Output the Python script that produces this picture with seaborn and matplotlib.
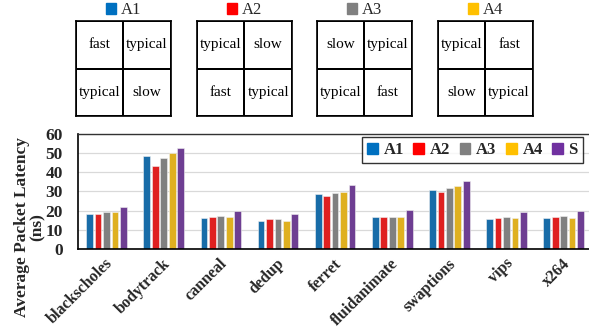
import numpy as np
import pandas as pd
import matplotlib
matplotlib.use("Agg")
import matplotlib.pyplot as plt
import seaborn as sns
from matplotlib.patches import Patch

# Daten
benchmarks = ["blackscholes", "bodytrack", "canneal", "dedup", "ferret",
              "fluidanimate", "swaptions", "vips", "x264"]
configs = ["A1", "A2", "A3", "A4", "S"]
a1 = [18.2, 48.7, 16.1, 14.6, 28.5, 16.8, 30.9, 15.7, 16.1]
a2 = [18.3, 43.2, 16.8, 15.6, 27.4, 16.8, 29.5, 16.4, 16.7]
a3 = [19.1, 47.4, 17.3, 15.6, 29.0, 16.8, 31.8, 16.8, 17.0]
a4 = [19.1, 50.2, 16.7, 14.6, 29.5, 16.8, 32.9, 16.2, 16.4]
s = [21.7, 52.6, 19.8, 18.2, 33.2, 20.5, 35.5, 19.3, 19.8]
colors = ["#0070C0", "#FF0000", "#808080", "#FFC000", "#7030A0"]

# 2x2 Zuordnungen oben
layouts = {
    "A1": [["fast", "typical"], ["typical", "slow"]],
    "A2": [["typical", "slow"], ["fast", "typical"]],
    "A3": [["slow", "typical"], ["typical", "fast"]],
    "A4": [["typical", "fast"], ["slow", "typical"]],
}

df = pd.DataFrame({"benchmark": benchmarks * 5,
                   "config": np.repeat(configs, len(benchmarks)),
                   "latency": a1 + a2 + a3 + a4 + s})

sns.set_style("white")
plt.rcParams["font.family"] = ["Liberation Serif", "DejaVu Serif"]

fig = plt.figure(figsize=(5.89, 3.28), dpi=100)

# Hauptdiagramm
ax = fig.add_axes([0.1324, 0.2409, 0.873, 0.3506])
sns.barplot(data=df, x="benchmark", y="latency", hue="config",
            palette=colors, width=0.74, gap=0.2, ax=ax,
            edgecolor="#f0f0f0", linewidth=0.4)
ax.set_ylim(0, 60)
ax.set_xlim(-0.5, len(benchmarks) - 0.5)
ax.set_yticks(range(0, 61, 10))
ax.set_yticklabels([str(v) for v in range(0, 61, 10)], fontsize=12.5, fontweight="bold")
ax.yaxis.grid(True, color="#d9d9d9", linewidth=0.9)
ax.set_axisbelow(True)
ax.tick_params(axis="y", direction="inout", length=6, width=1, pad=8)
ax.set_ylabel("Average Packet Latency\n(ns)", fontsize=12.5, fontweight="bold",
              linespacing=1.0)
ax.yaxis.set_label_coords(-0.062, 0.19)
ax.set_xlabel("")

# Ticks zwischen den Kategorien
ax.set_xticks(np.arange(len(benchmarks)), labels=[])
ax.set_xticks(np.arange(len(benchmarks)) - 0.5, minor=True)
ax.tick_params(axis="x", which="major", length=0)
ax.tick_params(axis="x", which="minor", direction="inout", length=8, width=1)
for i, b in enumerate(benchmarks):
    ax.text(i - 0.03, -3.5, b, rotation=45, ha="right", va="top",
            rotation_mode="anchor", fontsize=11.5, fontweight="bold")

for side in ["left", "bottom"]:
    ax.spines[side].set_color("black")
    ax.spines[side].set_linewidth(1.2)
ax.spines["top"].set_color("#333333")
ax.spines["top"].set_linewidth(1.0)
ax.spines["right"].set_visible(False)

handles = [Patch(color=c, label=l) for c, l in zip(colors, configs)]
leg = ax.legend(handles=handles, loc="upper right", bbox_to_anchor=(0.982, 0.97),
                ncol=5, frameon=True, fancybox=False, edgecolor="black",
                handlelength=0.65, handleheight=0.7, handletextpad=0.35,
                columnspacing=0.55, borderpad=0.3, borderaxespad=0.0,
                prop={"weight": "bold", "size": 12})
leg.get_frame().set_linewidth(1.0)

# Die vier 2x2 Raster oben
lefts = [0.129, 0.3345, 0.538, 0.7436]
for (name, cells), left, c in zip(layouts.items(), lefts, colors):
    gax = fig.add_axes([left, 0.646, 0.161, 0.29])
    sns.heatmap(np.zeros((2, 2)), annot=np.array(cells), fmt="",
                cmap=["white"], cbar=False, linewidths=1.2, linecolor="black",
                annot_kws={"fontsize": 11, "color": "black"}, ax=gax)
    gax.set_xticks([])
    gax.set_yticks([])
    for sp in gax.spines.values():
        sp.set_visible(True)
        sp.set_color("black")
        sp.set_linewidth(1.2)
    gax.legend(handles=[Patch(color=c, label=name)], loc="lower center",
               bbox_to_anchor=(0.5, 1.0), frameon=False, borderaxespad=0.0,
               borderpad=0.15, handlelength=0.6, handleheight=0.7,
               handletextpad=0.3, prop={"size": 12})

fig.savefig("out.png", dpi=100)
